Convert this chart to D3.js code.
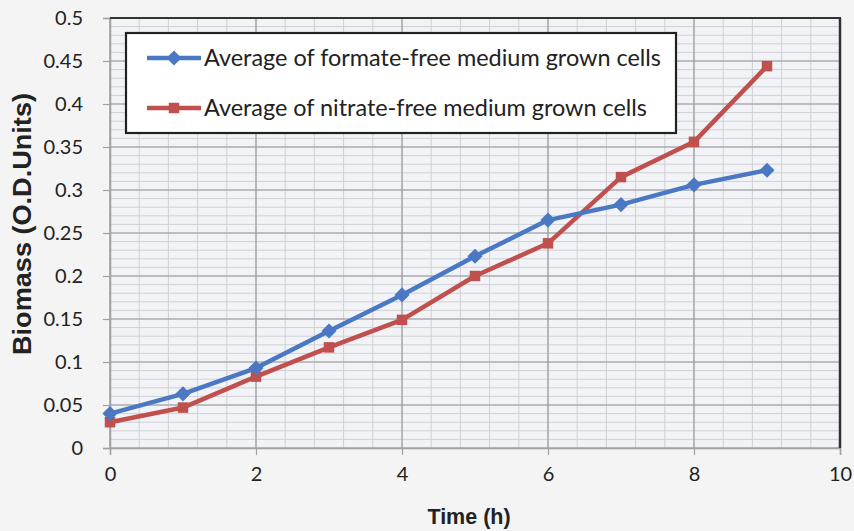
<!DOCTYPE html>
<html>
<head>
<meta charset="utf-8">
<script src="https://cdn.jsdelivr.net/npm/d3@7"></script>
<style>
  html, body { margin: 0; padding: 0; background: #f4f4f4; }
  svg { display: block; }
</style>
</head>
<body>
<svg id="chart" width="854" height="531"></svg>
<script>
// Sampling times (h)
const timeHours = [0, 1, 2, 3, 4, 5, 6, 7, 8, 9];
// Biomass, formate-free medium
const formateFree = [0.040, 0.063, 0.093, 0.136, 0.178, 0.223, 0.265, 0.283, 0.306, 0.323];
// Biomass, nitrate-free medium
const nitrateFree = [0.030, 0.047, 0.083, 0.117, 0.149, 0.200, 0.238, 0.315, 0.356, 0.444];
const seriesNames = [
  "Average of formate-free medium grown cells",
  "Average of nitrate-free medium grown cells"
];
const xTickValues = [0, 2, 4, 6, 8, 10];
const yTickValues = [0, 0.05, 0.1, 0.15, 0.2, 0.25, 0.3, 0.35, 0.4, 0.45, 0.5];

const svg = d3.select("#chart");
const plotLeft = 110, plotRight = 840, plotTop = 18, plotBottom = 448;

const x = d3.scaleLinear().domain([0, 10]).range([plotLeft, plotRight]);
const y = d3.scaleLinear().domain([0, 0.5]).range([plotBottom, plotTop]);

// plot area background
svg.append("rect")
  .attr("x", plotLeft).attr("y", plotTop)
  .attr("width", plotRight - plotLeft).attr("height", plotBottom - plotTop)
  .attr("fill", "#f2f3f7");

// minor grid
const minorX = d3.range(0, 10.001, 0.4);
const minorY = d3.range(0, 0.5001, 0.01);
svg.append("g").selectAll("line").data(minorX).join("line")
  .attr("x1", d => x(d)).attr("x2", d => x(d))
  .attr("y1", plotTop).attr("y2", plotBottom)
  .attr("stroke", "#cfd0d4").attr("stroke-width", 1);
svg.append("g").selectAll("line").data(minorY).join("line")
  .attr("x1", plotLeft).attr("x2", plotRight)
  .attr("y1", d => y(d)).attr("y2", d => y(d))
  .attr("stroke", "#cfd0d4").attr("stroke-width", 1);

// major grid
svg.append("g").selectAll("line").data(xTickValues).join("line")
  .attr("x1", d => x(d)).attr("x2", d => x(d))
  .attr("y1", plotTop).attr("y2", plotBottom)
  .attr("stroke", "#9a9a9e").attr("stroke-width", 1.2);
svg.append("g").selectAll("line").data(yTickValues).join("line")
  .attr("x1", plotLeft).attr("x2", plotRight)
  .attr("y1", d => y(d)).attr("y2", d => y(d))
  .attr("stroke", "#9a9a9e").attr("stroke-width", 1.2);

// axes
const xAxis = d3.axisBottom(x).tickValues(xTickValues).tickSize(7).tickPadding(12)
  .tickFormat(d3.format("d"));
const yAxis = d3.axisLeft(y).tickValues(yTickValues).tickSize(7).tickPadding(20)
  .tickFormat(d => d === 0 ? "0" : String(+d.toFixed(2)));

const gx = svg.append("g").attr("transform", `translate(0,${plotBottom})`).call(xAxis);
const gy = svg.append("g").attr("transform", `translate(${plotLeft},0)`).call(yAxis);
[gx, gy].forEach(g => {
  g.select(".domain").attr("stroke", "#a0a0a0").attr("stroke-width", 1.5);
  g.selectAll(".tick line").attr("stroke", "#a0a0a0").attr("stroke-width", 1.2);
  g.selectAll(".tick text")
    .attr("fill", "#222")
    .style("font-family", "Lato, 'Open Sans', sans-serif")
    .style("font-size", "20px");
});

// plot frame: dark top and right edges
svg.append("line").attr("x1", plotLeft).attr("x2", plotRight + 1).attr("y1", plotTop).attr("y2", plotTop)
  .attr("stroke", "#333").attr("stroke-width", 2);
svg.append("line").attr("x1", plotRight).attr("x2", plotRight).attr("y1", plotTop).attr("y2", plotBottom)
  .attr("stroke", "#333").attr("stroke-width", 2.5);

// axis titles
svg.append("text")
  .attr("x", 469).attr("y", 524)
  .attr("text-anchor", "middle")
  .style("font-family", "'Liberation Sans', Arial, sans-serif")
  .style("font-weight", "bold").style("font-size", "21.5px")
  .attr("fill", "#222")
  .text("Time (h)");
svg.append("text")
  .attr("transform", `translate(31,${224}) rotate(-90)`)
  .attr("text-anchor", "middle")
  .attr("textLength", 262).attr("lengthAdjust", "spacingAndGlyphs")
  .style("font-family", "'Liberation Sans', Arial, sans-serif")
  .style("font-weight", "bold").style("font-size", "26px")
  .attr("fill", "#222")
  .text("Biomass (O.D.Units)");

// series
const colors = ["#4a78c2", "#c0504d"];
const seriesData = [formateFree, nitrateFree];
const line = d3.line().x((d, i) => x(timeHours[i])).y(d => y(d));

// diamond = square turned 45 degrees
const diamondPath = d3.symbol().type(d3.symbolSquare).size(115)();
const squarePath = d3.symbol().type(d3.symbolSquare).size(110)();
const shapes = [diamondPath, squarePath];
const turn = [45, 0];

// nitrate series first so the formate series sits on top near the origin
[1, 0].forEach(k => {
  svg.append("path")
    .datum(seriesData[k])
    .attr("d", line)
    .attr("fill", "none")
    .attr("stroke", colors[k])
    .attr("stroke-width", 4.5)
    .attr("stroke-linejoin", "round");
  svg.append("g").selectAll("path").data(seriesData[k]).join("path")
    .attr("transform", (d, i) => `translate(${x(timeHours[i])},${y(d)}) rotate(${turn[k]})`)
    .attr("d", shapes[k])
    .attr("fill", colors[k]);
});

// legend
const lg = svg.append("g");
lg.append("rect")
  .attr("x", 126).attr("y", 33).attr("width", 550).attr("height", 100)
  .attr("fill", "#ffffff").attr("stroke", "#222").attr("stroke-width", 2.2);
const legendTextLen = [457, 443];
seriesNames.forEach((name, k) => {
  const cy = 58 + k * 50;
  lg.append("line")
    .attr("x1", 147).attr("x2", 201).attr("y1", cy).attr("y2", cy)
    .attr("stroke", colors[k]).attr("stroke-width", 4.5);
  lg.append("path")
    .attr("transform", `translate(174,${cy}) rotate(${turn[k]})`)
    .attr("d", shapes[k])
    .attr("fill", colors[k]);
  lg.append("text")
    .attr("x", 204).attr("y", cy + 8)
    .attr("textLength", legendTextLen[k]).attr("lengthAdjust", "spacingAndGlyphs")
    .style("font-family", "Lato, 'Open Sans', sans-serif")
    .style("font-size", "23px")
    .attr("fill", "#222")
    .text(name);
});
</script>
</body>
</html>
